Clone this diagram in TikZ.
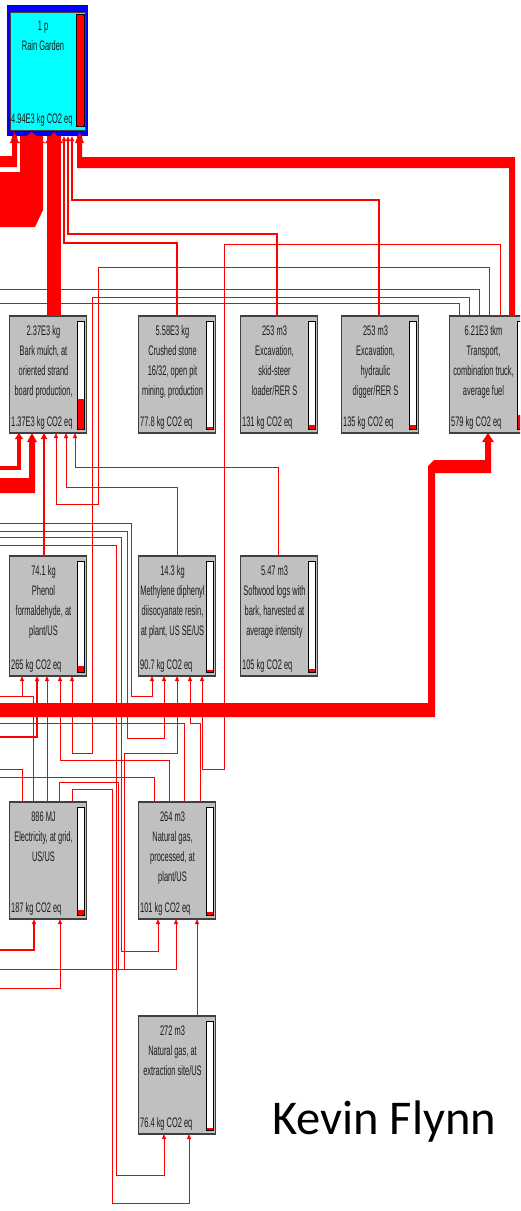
\documentclass[tikz,border=0pt]{standalone}
\usepackage{fontspec}
\setmainfont{Liberation Sans}
\newfontfamily\nf[FakeStretch=0.54]{Liberation Sans}
\newfontfamily\kf{Carlito}
\usetikzlibrary{arrows.meta,calc}
\definecolor{ngray}{HTML}{C0C0C0}
\definecolor{nborder}{HTML}{404040}
\definecolor{lred}{HTML}{FF0000}
\definecolor{rgcyan}{HTML}{00FFFF}
\definecolor{rgblue}{HTML}{0000FF}
\definecolor{ntext}{HTML}{1A1A1A}
\tikzset{
  pbox/.style={draw=nborder, line width=1.3pt, fill=ngray, inner sep=0pt, outer sep=0pt},
  ptext/.style={font=\nf\fontsize{13.8}{20}\selectfont, text=ntext, inner sep=0pt, align=center},
  btext/.style={font=\nf\fontsize{13.8}{20}\selectfont, text=ntext, inner sep=0pt},
  conn/.style={draw=lred, line width=1pt, line join=miter, -{Triangle[length=5pt,width=4pt]}},
  connfree/.style={draw=lred, line width=1pt, line join=miter},
  thickfill/.style={fill=lred, draw=none},
}
% name, x, y, height, top text, bottom text, red height
\newcommand\pnode[7]{%
  \node[pbox, minimum width=77pt, minimum height=#4pt, anchor=north west] (#1) at (#2,#3) {};
  \node[ptext, anchor=north] at ($(#1.north west)+(34,8.5)$) {\rule{0pt}{11pt}#5};
  \node[btext, anchor=base west] at ($(#1.south west)+(1.5,-6.5)$) {#6};
  \fill[white] ($(#1.north west)+(68,5)$) rectangle ($(#1.south west)+(74.5,-4)$);
  \fill[lred] ($(#1.south west)+(68,-4)$) rectangle ($(#1.south west)+(74.5,-4-#7)$);
  \draw[black, line width=0.9pt] ($(#1.north west)+(68,5)$) rectangle ($(#1.south west)+(74.5,-4)$);
}
\begin{document}
\begin{tikzpicture}[x=1pt,y=-1pt]
\clip (0,0) rectangle (520,1211);
\fill[white] (0,0) rectangle (520,1211);

% ---------- Rain Garden ----------
\node[fill=rgblue, minimum width=81pt, minimum height=131pt, anchor=north west, inner sep=0pt, outer sep=0pt] (rg) at (7,5) {};
\draw[draw=nborder, line width=1pt, fill=rgcyan] (10,12) rectangle (85,130);
\draw[fill=lred, draw=black, line width=0.9pt] (76,14) rectangle (84,126);
\node[ptext, anchor=north] at (43,19) {\rule{0pt}{11pt}1 p\\Rain Garden};
\node[btext, anchor=base west] at (11,123.5) {4.94E3 kg CO2 eq};

% ---------- process nodes ----------
\pnode{bm}{9.5}{316}{117}{2.37E3 kg\\Bark mulch, at\\oriented strand\\board production,}{1.37E3 kg CO2 eq}{30}
\pnode{cs}{138.5}{316}{117}{5.58E3 kg\\Crushed stone\\16/32, open pit\\mining, production}{77.8 kg CO2 eq}{2}
\pnode{sk}{240.5}{316}{117}{253 m3\\Excavation,\\skid-steer\\loader/RER S}{131 kg CO2 eq}{4}
\pnode{hy}{341.5}{316}{117}{253 m3\\Excavation,\\hydraulic\\digger/RER S}{135 kg CO2 eq}{4}
\pnode{tr}{449.5}{316}{117}{6.21E3 tkm\\Transport,\\combination truck,\\average fuel}{579 kg CO2 eq}{14}
\pnode{ph}{9.5}{556}{120}{74.1 kg\\Phenol\\formaldehyde, at\\plant/US}{265 kg CO2 eq}{6}
\pnode{md}{138.5}{556}{120}{14.3 kg\\Methylene diphenyl\\diisocyanate resin,\\at plant, US SE/US}{90.7 kg CO2 eq}{2}
\pnode{sw}{240.5}{556}{120}{5.47 m3\\Softwood logs with\\bark, harvested at\\average intensity}{105 kg CO2 eq}{3}
\pnode{el}{9.5}{802}{117}{886 MJ\\Electricity, at grid,\\US/US}{187 kg CO2 eq}{5}
\pnode{np}{138.5}{802}{117}{264 m3\\Natural gas,\\processed, at\\plant/US}{101 kg CO2 eq}{3}
\pnode{ne}{138.5}{1016}{118}{272 m3\\Natural gas, at\\extraction site/US}{76.4 kg CO2 eq}{2}

% ---------- thick flows into Rain Garden ----------
\fill[thickfill] (rg.south -| 12,0) -- (17,136) -- (17,167) -- (0,167) -- (0,156) -- (12,156) -- cycle;
\fill[thickfill] (rg.south -| 20,0) -- (43,136) -- (43,210) -- (35,227) -- (0,227) -- (0,172) -- (20,172) -- cycle;
\fill[thickfill] (rg.south -| 47,0) rectangle (bm.north -| 61,0);
\fill[thickfill] (rg.south -| 77,0) -- (82,136) -- (82,157) -- (515,157) -- (tr.north -| 515,0) -- (tr.north -| 509,0) -- (509,168) -- (77,168) -- cycle;
\fill[thickfill] (10,143) -- (14.5,132) -- (19,143) -- cycle;
\fill[thickfill] (18,143) -- (31.5,132) -- (45,143) -- cycle;
\fill[thickfill] (45,143) -- (54,132) -- (63,143) -- cycle;
\fill[thickfill] (75,143) -- (79.5,132) -- (84,143) -- cycle;

% ---------- thin flows into Rain Garden ----------
\draw[conn, line width=1.3pt] (cs.north -| 177,0) -- (177,243) -- (64,243) -- (rg.south -| 64,0);
\draw[conn, line width=2pt] (sk.north -| 277,0) -- (277,234) -- (68,234) -- (rg.south -| 68,0);
\draw[conn, line width=2pt] (hy.north -| 379,0) -- (379,200) -- (72,200) -- (rg.south -| 72,0);

% ---------- Transport outputs ----------
\draw[conn] (tr.north -| 500,0) -- (500,244) -- (224,244) -- (224,769) -- (202,769) -- (md.south -| 202,0);
\draw[conn] (tr.north -| 489,0) -- (489,267) -- (98,267) -- (98,504) -- (56,504) -- (bm.south -| 56,0);
\draw[connfree] (tr.north -| 479,0) -- (479,289) -- (0,289);
\draw[conn] (tr.north -| 469,0) -- (469,297) -- (92,297) -- (92,753) -- (72,753) -- (ph.south -| 72,0);
\draw[connfree] (tr.north -| 459,0) -- (459,303) -- (0,303);

% ---------- thick flow into Transport ----------
\fill[thickfill] (0,703) -- (428,703) -- (428,466) -- (434,460) -- (485,460) -- (485,441) -- (491,441) -- (491,473) -- (435,473) -- (435,717) -- (0,717) -- cycle;
\fill[thickfill] (482,442) -- (tr.south -| 488,0) -- (494,442) -- cycle;

% ---------- Bark mulch inputs ----------
\draw[conn, line width=4pt, -{Triangle[length=6pt,width=8pt]}] (0,468) -- (19,468) -- (bm.south -| 19,0);
\fill[thickfill] (29,440) -- (35,440) -- (35,493) -- (0,493) -- (0,478) -- (29,478) -- cycle;
\fill[thickfill] (27,442) -- (bm.south -| 32,0) -- (37,442) -- cycle;
\draw[conn, line width=2.5pt, -{Triangle[length=6pt,width=6pt]}] (ph.north -| 44,0) -- (bm.south -| 44,0);
\draw[conn] (md.north -| 177,0) -- (177,487) -- (66,487) -- (bm.south -| 66,0);
\draw[conn] (sw.north -| 278,0) -- (278,467) -- (75,467) -- (bm.south -| 75,0);

% ---------- long flows from the left ----------
\draw[conn] (0,523) -- (131,523) -- (131,696) -- (152,696) -- (md.south -| 152,0);
\draw[conn] (0,531) -- (127,531) -- (127,738) -- (164,738) -- (md.south -| 164,0);
\draw[conn] (0,537) -- (121,537) -- (121,951) -- (158,951) -- (np.south -| 158,0);
\draw[conn] (0,545) -- (116,545) -- (116,1175) -- (164,1175) -- (ne.south -| 164,0);
\draw[conn] (0,969) -- (124,969) -- (124,753) -- (177,753) -- (md.south -| 177,0);
\draw[conn, line width=2pt] (0,737) -- (37,737) -- (ph.south -| 37,0);

% ---------- Electricity outputs ----------
\coordinate (j1) at (22,696);
\draw[connfree] (el.north -| 22,0) -- (22,769) -- (0,769);
\draw[connfree] (el.north -| 33,0) -- (33,696) -- (0,696);
\draw[conn] (j1) -- (ph.south -| 22,0);
\draw[conn] (el.north -| 47,0) -- (ph.south -| 47,0);
\draw[connfree] (el.north -| 59,0) -- (59,782) -- (118,782) -- (118,969) -- (0,969);
\draw[conn] (el.north -| 72,0) -- (72,789) -- (112,789) -- (112,1203) -- (189,1203) -- (ne.south -| 189,0);

% ---------- Electricity inputs ----------
\draw[conn, line width=2pt] (0,950) -- (34,950) -- (el.south -| 34,0);
\draw[conn] (0,988) -- (60,988) -- (el.south -| 60,0);

% ---------- Natural gas processed ----------
\draw[connfree] (np.north -| 154,0) -- (154,777) -- (0,777);
\draw[conn] (np.north -| 169,0) -- (169,760) -- (60,760) -- (ph.south -| 60,0);
\draw[connfree] (np.north -| 184,0) -- (184,723) -- (0,723);
\draw[conn] (np.north -| 200,0) -- (200,723) -- (190,723) -- (md.south -| 190,0);
\draw[conn] (0,969) -- (176,969) -- (np.south -| 176,0);
\draw[conn] (ne.north -| 197,0) -- (np.south -| 197,0);

% ---------- author ----------
\node[font=\kf\fontsize{48.5}{52}\selectfont, anchor=base west, inner sep=0pt] (author) at (272,1134) {Kevin Flynn};
\end{tikzpicture}
\end{document}
